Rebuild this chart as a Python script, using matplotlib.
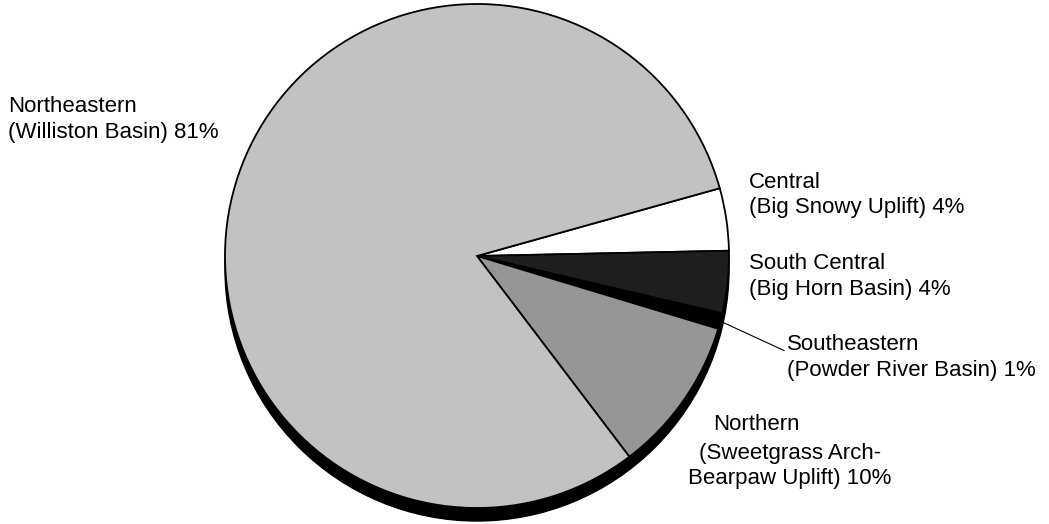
import matplotlib
matplotlib.use("Agg")
import matplotlib.pyplot as plt
from matplotlib.patches import Circle
import numpy as np

plt.rcParams['font.family'] = ['Liberation Sans', 'DejaVu Sans']

# share of the total, clockwise from the white "Central" slice
regions = ['Central', 'South Central', 'Southeastern', 'Northern', 'Northeastern']
basins = ['Big Snowy Uplift', 'Big Horn Basin', 'Powder River Basin',
          'Sweetgrass Arch-\nBearpaw Uplift', 'Williston Basin']
shares = [4, 4, 1, 10, 81]

fills = ['#ffffff', '#1e1e1e', '#000000', '#969696', '#c2c2c2']

W, H = 1049, 524
fig = plt.figure(figsize=(W / 100, H / 100), dpi=100)
ax = fig.add_axes([0, 0, 1, 1])

cx, cy, r = 477, 268, 252

# drop shadow under the pie
ax.add_patch(Circle((cx, cy - 13), r, facecolor='black', edgecolor='black', zorder=0))

wedges, _ = ax.pie(shares, startangle=15.6, counterclock=False, colors=fills,
                   center=(cx, cy), radius=r,
                   wedgeprops=dict(edgecolor='black', linewidth=1.3))
for w in wedges:
    w.set_zorder(1)

labels = [f'{a}\n({b}) {s}%' for a, b, s in zip(regions, basins, shares)]

fs = 16
ls = 1.3
# Central, South Central
ax.text(749, 329, labels[0], fontsize=fs, ha='left', va='center', linespacing=ls)
ax.text(749, 247.5, labels[1], fontsize=fs, ha='left', va='center', linespacing=ls)

# Southeastern, with a leader line from the thin slice
w = wedges[2]
mid = np.deg2rad((w.theta1 + w.theta2) / 2)
ax.annotate(labels[2], xy=(cx + r * np.cos(mid), cy + r * np.sin(mid)),
            xytext=(787, 166.5), fontsize=fs, ha='left', va='center', linespacing=ls,
            arrowprops=dict(arrowstyle='-', color='black', lw=0.8,
                            shrinkA=0, shrinkB=0, relpos=(0, 0.62)))

# Northern: region name sits a bit left of the basin lines
ax.text(756, 99, regions[3], fontsize=fs, ha='center', va='center')
ax.text(790, 58, f'({basins[3]}) {shares[3]}%', fontsize=fs, ha='center', va='center',
        multialignment='center', linespacing=ls)

# Northeastern
ax.text(8, 404.5, labels[4], fontsize=fs, ha='left', va='center', linespacing=ls)

ax.set_xlim(0, W)
ax.set_ylim(0, H)
ax.set_aspect('equal')
ax.axis('off')

fig.savefig('out.png', dpi=100)
